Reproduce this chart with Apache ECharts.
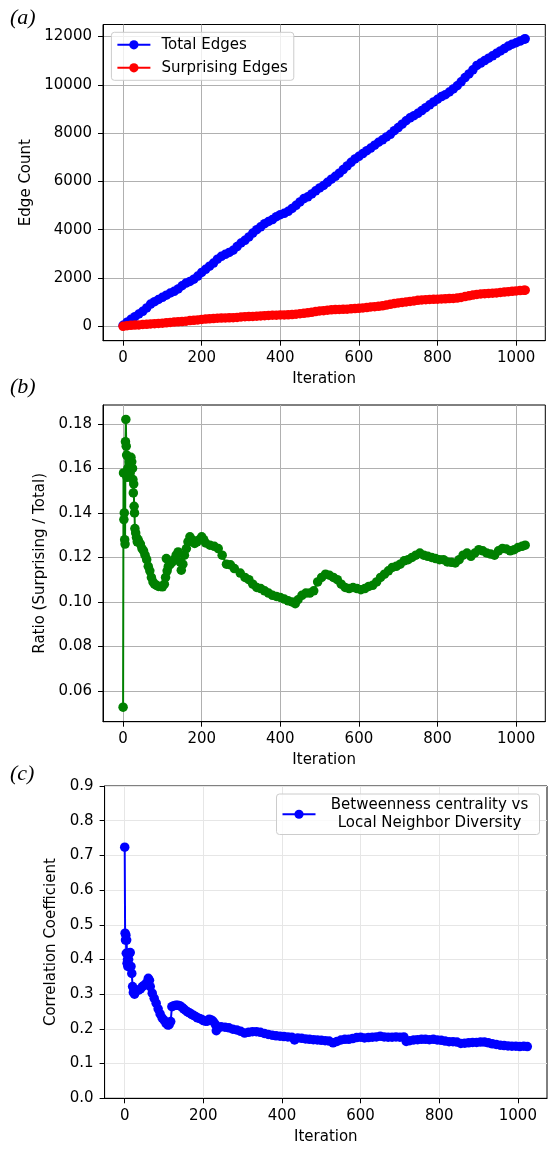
<!DOCTYPE html>
<html>
<head>
<meta charset="utf-8">
<script src="https://cdn.jsdelivr.net/npm/echarts@6/dist/echarts.min.js"></script>
<style>
html,body{margin:0;padding:0;background:#fff;}
#chart{width:558px;height:1158px;}
</style>
</head>
<body>
<div id="chart"></div>
<script>
// ---------- Panel (a): edge counts ----------
const edgeIter = [0,10,20,30,40,50,60,70,80,90,100,110,120,130,140,150,160,170,180,190,200,210,220,230,240,250,260,270,280,290,300,310,320,330,340,350,360,370,380,390,400,410,420,430,440,450,460,470,480,490,500,510,520,530,540,550,560,570,580,590,600,610,620,630,640,650,660,670,680,690,700,710,720,730,740,750,760,770,780,790,800,810,820,830,840,850,860,870,880,890,900,910,920,930,940,950,960,970,980,990,1000,1010,1020,1023];
const totalEdges = [40,170,290,400,510,620,760,920,1020,1110,1200,1290,1380,1450,1550,1680,1790,1860,1950,2080,2230,2360,2490,2620,2780,2900,2980,3060,3150,3300,3450,3560,3700,3860,4000,4120,4250,4340,4420,4540,4620,4680,4760,4880,5010,5150,5290,5360,5480,5610,5730,5830,5960,6090,6210,6340,6490,6640,6790,6930,7040,7150,7270,7380,7500,7620,7720,7840,7950,8100,8230,8370,8510,8630,8720,8820,8930,9050,9170,9290,9400,9510,9590,9700,9830,9960,10120,10300,10450,10620,10800,10900,11000,11100,11200,11300,11400,11500,11600,11680,11740,11810,11880,11900];
const surprisingEdges = [0,25,40,50,60,75,85,100,110,118,128,145,160,175,188,195,215,240,248,265,285,300,310,322,335,340,345,352,358,370,390,398,405,412,420,432,440,450,458,463,470,474,478,488,500,520,540,560,580,610,635,650,670,683,692,700,705,712,725,735,745,760,778,800,815,830,850,880,910,940,968,990,1010,1030,1052,1075,1090,1100,1110,1118,1126,1135,1140,1148,1155,1170,1195,1230,1265,1295,1320,1338,1352,1360,1370,1382,1400,1420,1435,1450,1465,1478,1490,1495];

// ---------- Panel (b): ratio ----------
const ratioIter = [0,1,2,3,4,5,6,7,8,9,10,12,14,16,18,20,22,24,25,26,27,28,29,30,32,34,36,38,40,44,48,52,56,60,64,68,72,76,80,85,90,95,100,105,108,110,112,115,120,125,130,135,140,145,148,152,156,161,165,170,175,182,188,194,200,205,210,221,232,242,252,263,273,283,298,310,320,330,340,350,360,370,380,390,400,410,420,430,438,445,455,465,475,485,495,505,515,525,535,545,555,565,575,585,595,605,615,625,635,645,655,665,675,685,695,705,715,725,735,745,755,765,775,785,795,805,815,825,835,845,855,865,875,885,895,905,915,925,935,945,955,965,975,985,995,1005,1015,1023];
const ratioValues = [0.0527,0.158,0.137,0.140,0.128,0.126,0.172,0.182,0.170,0.166,0.156,0.160,0.165,0.163,0.158,0.165,0.163,0.160,0.155,0.149,0.153,0.143,0.140,0.133,0.131,0.129,0.127,0.128,0.127,0.126,0.124,0.123,0.121,0.119,0.116,0.114,0.111,0.109,0.108,0.1075,0.107,0.107,0.1068,0.108,0.111,0.1195,0.114,0.116,0.117,0.118,0.119,0.121,0.1225,0.118,0.1143,0.117,0.121,0.124,0.127,0.1293,0.128,0.1263,0.127,0.128,0.1293,0.128,0.1265,0.1255,0.125,0.124,0.121,0.117,0.1167,0.115,0.113,0.111,0.110,0.108,0.1065,0.106,0.105,0.104,0.103,0.1025,0.102,0.1013,0.1005,0.100,0.0992,0.101,0.103,0.104,0.104,0.105,0.109,0.111,0.1125,0.112,0.111,0.110,0.108,0.1065,0.106,0.1065,0.106,0.1055,0.106,0.107,0.1075,0.109,0.111,0.1125,0.114,0.1155,0.116,0.117,0.1185,0.119,0.120,0.121,0.122,0.121,0.1205,0.120,0.1195,0.119,0.119,0.118,0.1178,0.1175,0.119,0.121,0.122,0.1205,0.122,0.1235,0.123,0.122,0.1215,0.121,0.123,0.124,0.1238,0.123,0.1235,0.1245,0.125,0.1255];

// ---------- Panel (c): correlation ----------
const corrIter = [0,1,2,3,4,5,6,7,8,10,12,14,16,18,20,22,25,30,35,40,45,50,55,60,63,65,70,75,80,85,90,95,100,105,110,113,117,120,125,130,135,140,146,150,155,160,165,170,175,180,185,190,195,200,205,210,215,220,225,230,233,238,245,255,265,275,285,295,305,315,325,335,345,355,365,375,385,395,405,415,425,432,440,450,460,470,480,490,500,510,520,530,540,550,560,570,580,590,600,610,620,630,640,650,660,670,680,690,700,710,716,725,735,745,755,765,775,785,795,805,815,825,835,845,855,865,875,885,895,905,915,925,935,945,955,965,975,985,995,1005,1015,1024];
const corrValues = [0.7236,0.476,0.456,0.470,0.418,0.456,0.389,0.400,0.380,0.400,0.418,0.420,0.380,0.360,0.322,0.305,0.300,0.310,0.312,0.315,0.322,0.326,0.332,0.346,0.340,0.322,0.303,0.288,0.274,0.258,0.243,0.232,0.225,0.216,0.211,0.212,0.221,0.264,0.267,0.268,0.268,0.267,0.262,0.258,0.253,0.249,0.246,0.242,0.239,0.236,0.232,0.230,0.228,0.224,0.222,0.222,0.228,0.226,0.222,0.214,0.195,0.203,0.206,0.205,0.203,0.199,0.197,0.193,0.188,0.190,0.192,0.192,0.190,0.187,0.184,0.182,0.180,0.179,0.178,0.177,0.176,0.168,0.174,0.173,0.171,0.170,0.169,0.168,0.167,0.166,0.165,0.160,0.164,0.168,0.170,0.170,0.172,0.175,0.176,0.174,0.175,0.176,0.177,0.179,0.177,0.176,0.176,0.177,0.176,0.177,0.164,0.166,0.168,0.169,0.170,0.170,0.169,0.170,0.168,0.167,0.165,0.163,0.163,0.162,0.158,0.159,0.160,0.161,0.161,0.162,0.162,0.160,0.157,0.155,0.153,0.152,0.151,0.150,0.150,0.149,0.150,0.149];

// ---------- Axis ticks / labels ----------
const xTicks = [0, 200, 400, 600, 800, 1000];
const edgeTicks = [0, 2000, 4000, 6000, 8000, 10000, 12000];
const ratioTicks = [0.06, 0.08, 0.10, 0.12, 0.14, 0.16, 0.18];
const corrTickStep = 0.1;
const panelLabels = ['(a)', '(b)', '(c)'];

const FONT = 'DejaVu Sans';
const FS = 15;
const pair = (xs, ys) => xs.map((x, i) => [x, ys[i]]);
const nameStyle = {fontFamily: FONT, fontSize: FS, color: '#000'};
const tickStyle = {show: true, length: 5, lineStyle: {color: '#000', width: 1}};
const lineAxis = {show: true, onZero: false, lineStyle: {color: '#000', width: 1}};

function xAxisFor(gridIndex) {
  return {
    type: 'value', gridIndex, min: -51.15, max: 1074.15, splitNumber: 5,
    name: 'Iteration', nameLocation: 'middle', nameGap: 31, nameTextStyle: nameStyle,
    axisLine: lineAxis,
    axisTick: Object.assign({customValues: xTicks}, tickStyle),
    axisLabel: {fontFamily: FONT, fontSize: FS, color: '#000', margin: 10, customValues: xTicks,
      formatter: v => String(Math.round(v))},
    splitLine: {show: true, lineStyle: {color: gridIndex === 2 ? '#e6e6e6' : '#b0b0b0', width: 1}}
  };
}

const chart = echarts.init(document.getElementById('chart'), null, {renderer: 'canvas'});
const option = {
  animation: false,
  backgroundColor: '#fff',
  grid: [
    {left: 103, top: 24.5, width: 442.3, height: 316.2, show: true, borderColor: '#000', borderWidth: 1, backgroundColor: 'transparent'},
    {left: 103, top: 405, width: 442.3, height: 316.7, show: true, borderColor: '#000', borderWidth: 1, backgroundColor: 'transparent'},
    {left: 104.6, top: 786, width: 442.4, height: 312.3, show: true, borderColor: '#000', borderWidth: 1, backgroundColor: 'transparent'}
  ],
  xAxis: [xAxisFor(0), xAxisFor(1), xAxisFor(2)],
  yAxis: [
    {type: 'value', gridIndex: 0, min: -595, max: 12495, splitNumber: 6,
      name: 'Edge Count', nameLocation: 'middle', nameGap: 67, nameTextStyle: nameStyle,
      axisLine: lineAxis,
      axisTick: Object.assign({customValues: edgeTicks}, tickStyle),
      axisLabel: {fontFamily: FONT, fontSize: FS, color: '#000', margin: 11, customValues: edgeTicks,
        formatter: v => String(Math.round(v))},
      splitLine: {show: true, lineStyle: {color: '#b0b0b0', width: 1}}},
    {type: 'value', gridIndex: 1, min: 0.0462, max: 0.1885, splitNumber: 7,
      name: 'Ratio (Surprising / Total)', nameLocation: 'middle', nameGap: 52, nameTextStyle: nameStyle,
      axisLine: lineAxis,
      axisTick: Object.assign({customValues: ratioTicks}, tickStyle),
      axisLabel: {fontFamily: FONT, fontSize: FS, color: '#000', margin: 11, customValues: ratioTicks,
        formatter: v => v.toFixed(2)},
      splitLine: {show: true, lineStyle: {color: '#b0b0b0', width: 1}}},
    {type: 'value', gridIndex: 2, min: 0, max: 0.9, interval: corrTickStep,
      name: 'Correlation Coefficient', nameLocation: 'middle', nameGap: 42, nameTextStyle: nameStyle,
      axisLine: lineAxis,
      axisTick: tickStyle,
      axisLabel: {fontFamily: FONT, fontSize: FS, color: '#000', margin: 11,
        formatter: v => v.toFixed(1)},
      splitLine: {show: true, lineStyle: {color: '#e6e6e6', width: 1}}}
  ],
  legend: [
    {data: ['Total Edges', 'Surprising Edges'], orient: 'vertical', left: 111.4, top: 32.3,
      itemWidth: 33, itemHeight: 11.5, itemGap: 8, padding: [5, 6, 5, 5],
      backgroundColor: 'rgba(255,255,255,0.8)', borderColor: '#cccccc', borderWidth: 1, borderRadius: 3,
      textStyle: {fontFamily: FONT, fontSize: FS, color: '#000', padding: [0, 0, 0, 6]}},
    {data: ['Betweenness centrality vs\nLocal Neighbor Diversity'], orient: 'vertical', left: 276.5, top: 794,
      itemWidth: 33, itemHeight: 11.5, padding: [4, 8, 4, 5],
      backgroundColor: 'rgba(255,255,255,0.8)', borderColor: '#cccccc', borderWidth: 1, borderRadius: 3,
      formatter: name => name.split('\n').map(s => '{c|' + s + '}').join('\n'),
      textStyle: {fontFamily: FONT, fontSize: FS, color: '#000', padding: [0, 0, 0, 7],
        rich: {c: {fontFamily: FONT, fontSize: FS, color: '#000', width: 204, align: 'center', lineHeight: 17.5}}}}
  ],
  graphic: panelLabels.map((t, i) => ({
    type: 'text', left: 10, top: [7, 376, 763][i],
    style: {text: t, font: 'italic 22px "Liberation Serif"', fill: '#000'}
  })),
  series: [
    {name: 'Total Edges', type: 'line', xAxisIndex: 0, yAxisIndex: 0, data: pair(edgeIter, totalEdges),
      symbol: 'circle', symbolSize: 9.5, showSymbol: true, showAllSymbol: true,
      itemStyle: {color: '#0000ff'}, lineStyle: {color: '#0000ff', width: 2}},
    {name: 'Surprising Edges', type: 'line', xAxisIndex: 0, yAxisIndex: 0, data: pair(edgeIter, surprisingEdges),
      symbol: 'circle', symbolSize: 9.5, showSymbol: true, showAllSymbol: true,
      itemStyle: {color: '#ff0000'}, lineStyle: {color: '#ff0000', width: 2}},
    {name: 'Ratio', type: 'line', xAxisIndex: 1, yAxisIndex: 1, data: pair(ratioIter, ratioValues),
      symbol: 'circle', symbolSize: 9.5, showSymbol: true, showAllSymbol: true,
      itemStyle: {color: '#008000'}, lineStyle: {color: '#008000', width: 2}},
    {name: 'Betweenness centrality vs\nLocal Neighbor Diversity', type: 'line', xAxisIndex: 2, yAxisIndex: 2,
      data: pair(corrIter, corrValues),
      symbol: 'circle', symbolSize: 9.5, showSymbol: true, showAllSymbol: true,
      itemStyle: {color: '#0000ff'}, lineStyle: {color: '#0000ff', width: 2}}
  ]
};
chart.setOption(option);
</script>
</body>
</html>
